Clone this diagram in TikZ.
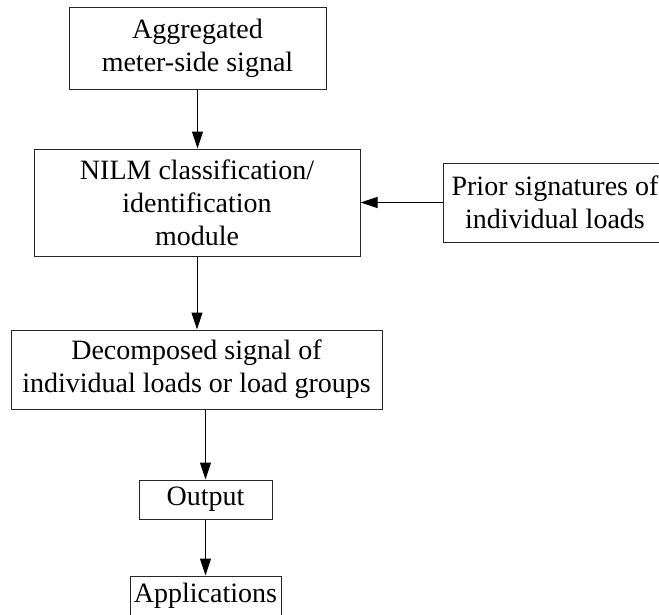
\documentclass[tikz,border=0pt]{standalone}
\usepackage{fontspec}
\setmainfont{Liberation Serif}
\usetikzlibrary{arrows.meta}
\begin{document}
\begin{tikzpicture}[x=1pt,y=-1pt,
  box/.style={draw=black!85, line width=1pt, rectangle, inner sep=0pt, align=center,
              font=\fontsize{28}{33}\selectfont},
  flow/.style={draw, line width=1pt, -{Triangle[length=17pt,width=11pt]}}]
\useasboundingbox (0,0) rectangle (659,614);

% processing chain
\node[box, minimum width=257pt, minimum height=82pt]  (agg)   at (197.5,48)  {Aggregated\\meter-side signal};
\node[box, minimum width=326pt, minimum height=107pt] (nilm)  at (197,202.5) {NILM classification/\\identification\\module};
\node[box, minimum width=224pt, minimum height=79pt]  (prior) at (555,202.5) {Prior signatures of\\individual loads};
\node[box, minimum width=371pt, minimum height=79pt]  (dec)   at (196.5,369.5) {Decomposed signal of\\individual loads or load groups};
\node[box, minimum width=133pt, minimum height=39pt]  (out)   at (205.5,499.5) {Output};
\node[box, minimum width=151pt, minimum height=40pt]  (app)   at (205.5,596)   {Applications};

% connectors
\draw[flow] (agg.south) -- (agg.south |- nilm.north);
\draw[flow] (prior.west) -- (nilm.east);
\draw[flow] (nilm.south) -- (nilm.south |- dec.north);
\draw[flow] (out.north |- dec.south) -- (out.north);
\draw[flow] (out.south) -- (app.north);
\end{tikzpicture}
\end{document}
